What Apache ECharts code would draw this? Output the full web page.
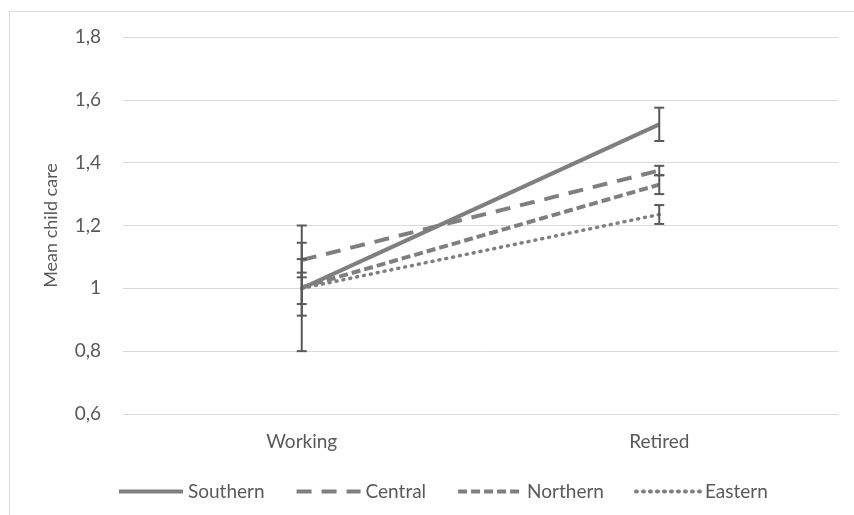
<!DOCTYPE html>
<html>
<head>
<meta charset="utf-8">
<script src="https://cdn.jsdelivr.net/npm/echarts@6/dist/echarts.min.js"></script>
<style>
html,body{margin:0;padding:0;background:#fff;}
#chart{width:854px;height:515px;}
</style>
</head>
<body>
<div id="chart"></div>
<script>
const categories = ['Working', 'Retired'];
const seriesNames = ['Southern', 'Central', 'Northern', 'Eastern'];
const southern = [1.0, 1.522];
const central = [1.09, 1.375];
const northern = [1.003, 1.33];
const eastern = [1.0, 1.235];
const southernErr = [0.2, 0.053];
const centralErr = [0.055, 0.015];
const northernErr = [0.09, 0.03];
const easternErr = [0.05, 0.03];
const yTicks = [0.6, 0.8, 1.0, 1.2, 1.4, 1.6, 1.8];

const lineColor = '#7f7f7f';
const errColor = '#595959';
const font = 'Lato, "Open Sans", sans-serif';

const allMeans = [southern, central, northern, eastern];
const allErrs = [southernErr, centralErr, northernErr, easternErr];
const errData = [];
allMeans.forEach((m, s) => {
  m.forEach((v, i) => {
    errData.push([i, v - allErrs[s][i], v + allErrs[s][i]]);
  });
});

const styles = [
  { width: 4, type: 'solid' },
  { width: 4, type: [15, 10] },
  { width: 4, type: [9, 4] },
  { width: 3.5, type: [1, 6], cap: 'round' }
];

const chart = echarts.init(document.getElementById('chart'));
const series = seriesNames.map((n, s) => ({
  name: n,
  type: 'line',
  data: allMeans[s],
  symbol: 'none',
  z: 3,
  lineStyle: Object.assign({ color: lineColor }, styles[s]),
  itemStyle: { color: lineColor }
}));
series.push({
  type: 'custom',
  z: 5,
  data: errData,
  renderItem: function (params, api) {
    const x = api.value(0);
    const lo = api.coord([x, api.value(1)]);
    const hi = api.coord([x, api.value(2)]);
    const hw = 5;
    const st = { stroke: errColor, lineWidth: 2 };
    return {
      type: 'group',
      children: [
        { type: 'line', shape: { x1: lo[0], y1: lo[1], x2: hi[0], y2: hi[1] }, style: st },
        { type: 'line', shape: { x1: lo[0] - hw, y1: lo[1], x2: lo[0] + hw, y2: lo[1] }, style: st },
        { type: 'line', shape: { x1: hi[0] - hw, y1: hi[1], x2: hi[0] + hw, y2: hi[1] }, style: st }
      ]
    };
  }
});

chart.setOption({
  animation: false,
  backgroundColor: '#fff',
  graphic: [{
    type: 'rect',
    shape: { x: 9.5, y: 11.5, width: 900, height: 600 },
    style: { fill: 'none', stroke: '#d9d9d9', lineWidth: 1 },
    silent: true
  }],
  grid: { left: 123, right: 16, top: 37, bottom: 101 },
  legend: {
    data: seriesNames,
    left: 112,
    top: 477,
    itemWidth: 64,
    itemHeight: 14,
    itemGap: 30,
    itemStyle: { opacity: 0 },
    lineStyle: { width: 4 },
    textStyle: { fontFamily: font, fontSize: 19, color: '#595959' }
  },
  xAxis: {
    type: 'category',
    data: categories,
    boundaryGap: true,
    axisLine: { show: true, lineStyle: { color: '#d9d9d9', width: 1 } },
    axisTick: { show: false },
    axisLabel: { fontFamily: font, fontSize: 19, color: '#595959', margin: 18 }
  },
  yAxis: {
    type: 'value',
    min: yTicks[0],
    max: yTicks[yTicks.length - 1],
    interval: 0.2,
    name: 'Mean child care',
    nameLocation: 'middle',
    nameGap: 63,
    nameTextStyle: { fontFamily: font, fontSize: 18, color: '#595959' },
    axisLine: { show: false },
    axisTick: { show: false },
    splitLine: { lineStyle: { color: '#d9d9d9', width: 1 } },
    axisLabel: {
      fontFamily: font, fontSize: 19, color: '#595959', margin: 22,
      formatter: v => String(Math.round(v * 10) / 10).replace('.', ',')
    }
  },
  series: series
});
</script>
</body>
</html>
